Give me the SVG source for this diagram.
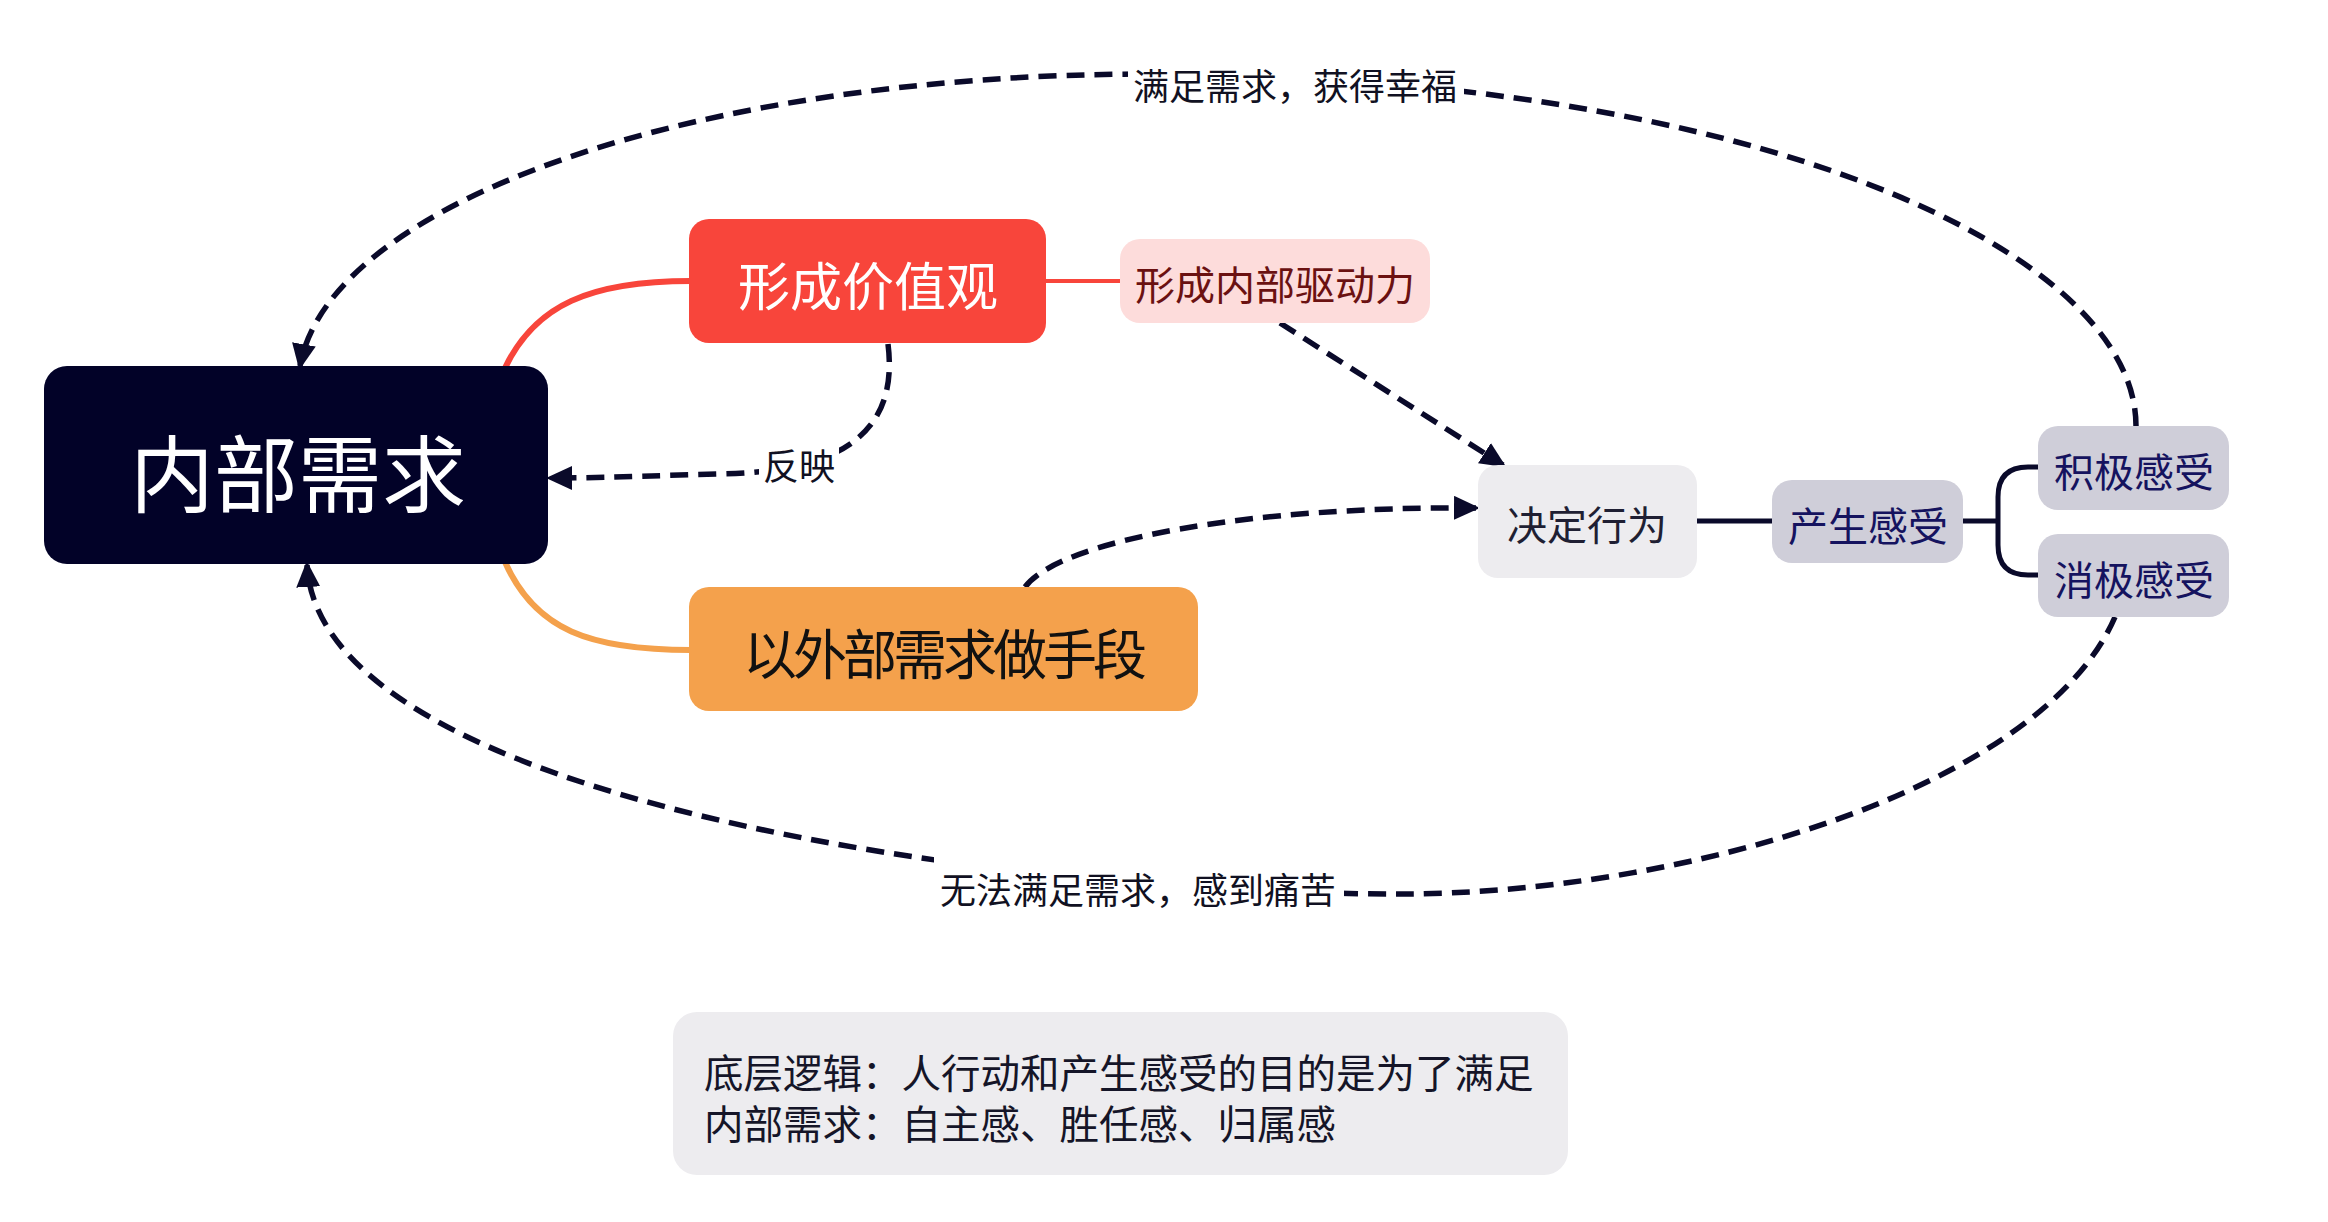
<svg xmlns="http://www.w3.org/2000/svg" width="2328" height="1222" viewBox="0 0 2328 1222">
<style>
text{font-family:"Noto Sans CJK SC","Noto Sans",sans-serif;dominant-baseline:central}
.c{text-anchor:middle}
.dash{fill:none;stroke:#0A0A2A;stroke-width:5.5;stroke-dasharray:18 10}
.solid{fill:none;stroke:#0A0A2A;stroke-width:5}
.lbl{font-size:36px;fill:#111122}
.bg{fill:#FFFFFF}
.t40{font-size:40px}
.navy{fill:#15135F}
.gray2{fill:#CFCED9}
</style>
<defs>
<marker id="ah" markerUnits="userSpaceOnUse" markerWidth="26" markerHeight="24" viewBox="0 0 26 24" refX="22" refY="12" orient="auto">
<path d="M0,0 L26,12 L0,24 z" fill="#0A0A2A"/>
</marker>
</defs>
<rect width="2328" height="1222" fill="#FFFFFF"/>

<g id="connectors">
<path d="M505,368 C535,305 590,281 691,281" fill="none" stroke="#F8453B" stroke-width="6"/>
<path d="M505,562 C535,630 590,650 691,650" fill="none" stroke="#F4A14C" stroke-width="6"/>
<path d="M1044,281 L1122,281" fill="none" stroke="#F8453B" stroke-width="4"/>
<path d="M1697,521 L1774,521" class="solid"/>
<path d="M1961,521 L1998,521 M2040,467 L2028,467 Q1998,467 1998,497 L1998,545 Q1998,575 2028,575 L2040,575" class="solid"/>
<path d="M1280,323 L1503,465" class="dash" marker-end="url(#ah)"/>
<path d="M1025,587 C1060,540 1250,506 1476,508" class="dash" marker-end="url(#ah)"/>
<path d="M888,344 C900,440 830,472 720,474 C640,476 600,478 550,478" class="dash" marker-end="url(#ah)"/>
<path d="M2136,426 C2136,250 1750,74 1150,74 C700,74 330,200 300,366" class="dash" marker-end="url(#ah)"/>
<path d="M2115,617 C2040,790 1680,894 1400,894 C1000,894 320,800 307,565" class="dash" marker-end="url(#ah)"/>
<g id="label-top">
<rect x="1128" y="60" width="336" height="48" class="bg"/>
<text x="1295" y="84" class="c lbl">满足需求，获得幸福</text>
</g>
<g id="label-bottom">
<rect x="934" y="855" width="410" height="57" class="bg"/>
<text x="1138" y="888" class="c lbl">无法满足需求，感到痛苦</text>
</g>
<g id="label-reflect">
<rect x="759" y="444" width="80" height="40" class="bg"/>
<text x="799" y="464" class="c lbl">反映</text>
</g>
</g>

<g id="node-inner-needs">
<rect x="44" y="366" width="504" height="198" rx="23" fill="#020228"/>
<text x="298" y="469" class="c" font-size="84" fill="#FFFFFF">内部需求</text>
</g>
<g id="node-values">
<rect x="689" y="219" width="357" height="124" rx="20" fill="#F8453B"/>
<text x="868" y="283" class="c" font-size="52" fill="#FFFFFF">形成价值观</text>
</g>
<g id="node-external">
<rect x="689" y="587" width="509" height="124" rx="20" fill="#F4A14C"/>
<text x="945" y="651" class="c" font-size="54" textLength="404" lengthAdjust="spacing" fill="#111111">以外部需求做手段</text>
</g>
<g id="node-drive">
<rect x="1120" y="239" width="310" height="84" rx="20" fill="#FDDCDB"/>
<text x="1275" y="283" class="c t40" fill="#6B1111">形成内部驱动力</text>
</g>
<g id="node-decide">
<rect x="1478" y="465" width="219" height="113" rx="20" fill="#EDECEF"/>
<text x="1587" y="523" class="c t40" fill="#1F1F33">决定行为</text>
</g>
<g id="node-feeling">
<rect x="1772" y="480" width="191" height="83" rx="20" class="gray2"/>
<text x="1868" y="524" class="c t40 navy">产生感受</text>
</g>
<g id="node-positive">
<rect x="2038" y="426" width="191" height="84" rx="20" class="gray2"/>
<text x="2134" y="470" class="c t40 navy">积极感受</text>
</g>
<g id="node-negative">
<rect x="2038" y="534" width="191" height="83" rx="20" class="gray2"/>
<text x="2134" y="578" class="c t40 navy">消极感受</text>
</g>
<g id="node-note">
<rect x="673" y="1012" width="895" height="163" rx="24" fill="#EDECEF"/>
<text x="704" y="1070" font-size="39.5" fill="#151528">底层逻辑：人行动和产生感受的目的是为了满足</text>
<text x="704" y="1121" font-size="39.5" fill="#151528">内部需求：自主感、胜任感、归属感</text>
</g>
</svg>
